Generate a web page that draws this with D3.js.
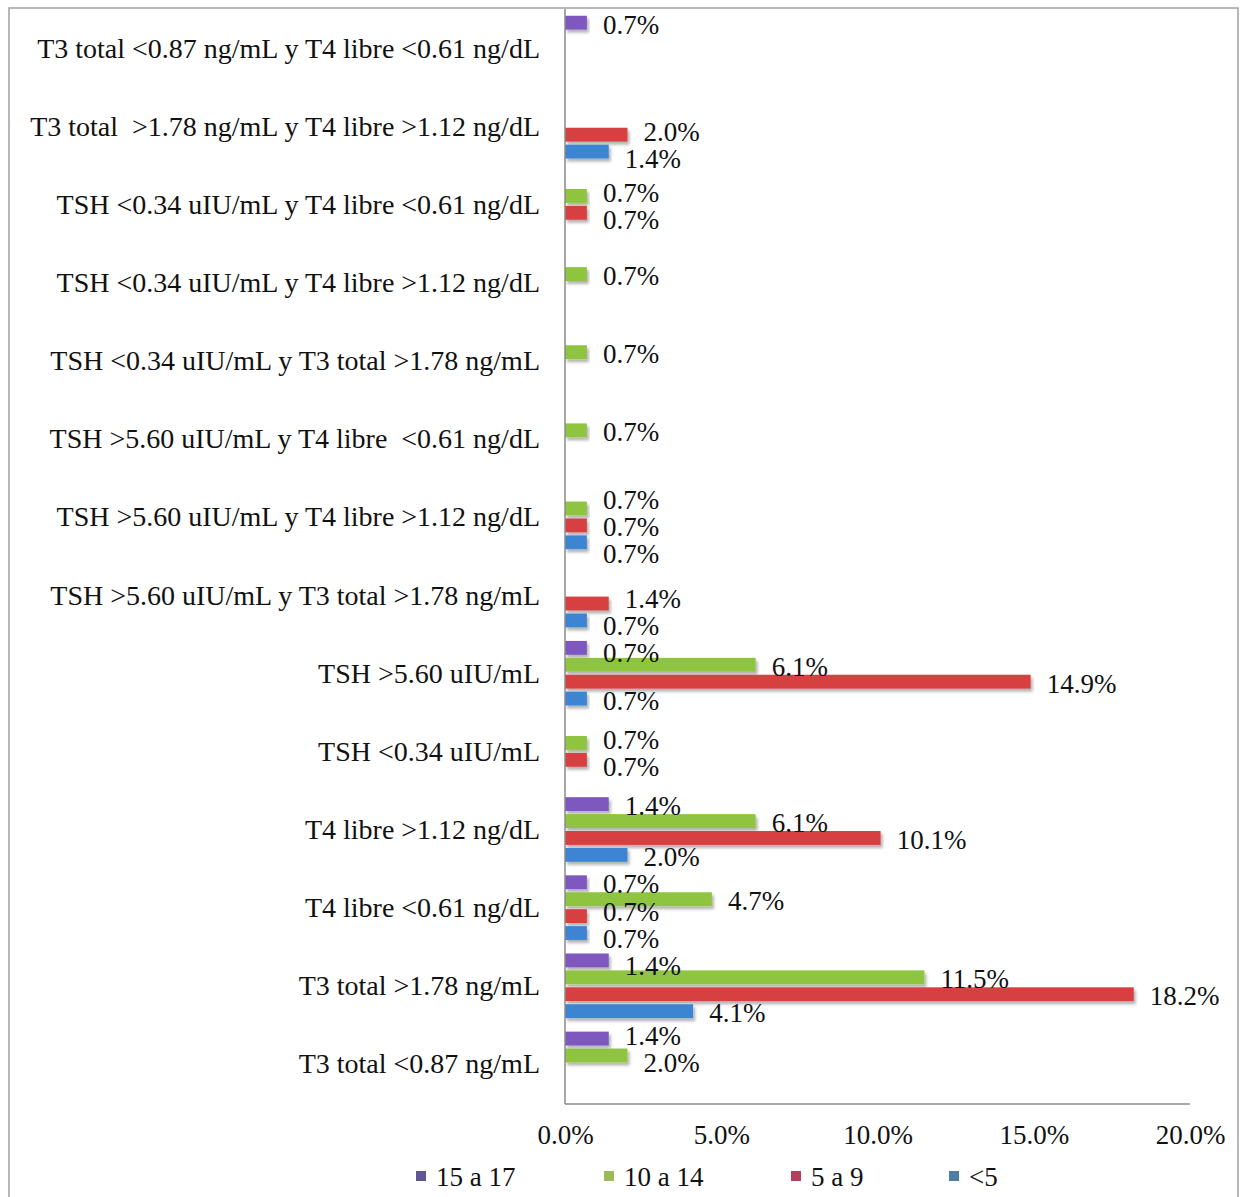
<!DOCTYPE html>
<html>
<head>
<meta charset="utf-8">
<script src="https://cdn.jsdelivr.net/npm/d3@7"></script>
<style>
  html, body { margin: 0; padding: 0; background: #fff; }
  svg text { font-family: "Liberation Serif", "DejaVu Serif", serif; white-space: pre; }
</style>
</head>
<body>
<svg id="chart" width="1241" height="1197"></svg>
<script>
const categories = [
  "T3 total <0.87 ng/mL y T4 libre <0.61 ng/dL",
  "T3 total  >1.78 ng/mL y T4 libre >1.12 ng/dL",
  "TSH <0.34 uIU/mL y T4 libre <0.61 ng/dL",
  "TSH <0.34 uIU/mL y T4 libre >1.12 ng/dL",
  "TSH <0.34 uIU/mL y T3 total >1.78 ng/mL",
  "TSH >5.60 uIU/mL y T4 libre  <0.61 ng/dL",
  "TSH >5.60 uIU/mL y T4 libre >1.12 ng/dL",
  "TSH >5.60 uIU/mL y T3 total >1.78 ng/mL",
  "TSH >5.60 uIU/mL",
  "TSH <0.34 uIU/mL",
  "T4 libre >1.12 ng/dL",
  "T4 libre <0.61 ng/dL",
  "T3 total >1.78 ng/mL",
  "T3 total <0.87 ng/mL"
];
const seriesNames = ["15 a 17", "10 a 14", "5 a 9", "<5"];
const s15a17 = [0.7, null, null, null, null, null, null, null, 0.7, null, 1.4, 0.7, 1.4, 1.4];
const s10a14 = [null, null, 0.7, 0.7, 0.7, 0.7, 0.7, null, 6.1, 0.7, 6.1, 4.7, 11.5, 2.0];
const s5a9   = [null, 2.0, 0.7, null, null, null, 0.7, 1.4, 14.9, 0.7, 10.1, 0.7, 18.2, null];
const sLt5   = [null, 1.4, null, null, null, null, 0.7, 0.7, 0.7, null, 2.0, 0.7, 4.1, null];
const xTicks = [0, 5, 10, 15, 20];

const barColors = ["#7E58BF", "#8FC43F", "#D6403F", "#3D85D3"];
const legendColors = ["#5F5791", "#9BBB59", "#B3405B", "#4C7EA6"];
const seriesValues = [s15a17, s10a14, s5a9, sLt5];

const svg = d3.select("#chart");

// defs: shadow
const defs = svg.append("defs");
const f = defs.append("filter").attr("id", "shadow").attr("x", "-5%").attr("y", "-30%").attr("width", "115%").attr("height", "180%");
f.append("feDropShadow").attr("dx", 2).attr("dy", 3).attr("stdDeviation", 1.5)
  .attr("flood-color", "#000").attr("flood-opacity", 0.3);

// outer frame
svg.append("rect").attr("x", 9).attr("y", 8).attr("width", 1229).attr("height", 1210)
  .attr("fill", "none").attr("stroke", "#a0a0a0").attr("stroke-width", 1.5);

const x = d3.scaleLinear().domain([0, 20]).range([565, 1190]);
const y = d3.scaleBand().domain(categories).range([9, 1103]).padding(0);
const y1 = d3.scaleBand().domain(seriesNames).range([0, y.bandwidth()])
  .paddingInner(0.18).paddingOuter(0.4);

// bars
const data = [];
categories.forEach((c, i) => {
  seriesNames.forEach((s, j) => {
    const v = seriesValues[j][i];
    if (v !== null) data.push({ c, s, j, v });
  });
});

const g = svg.append("g");
g.selectAll("rect.bar").data(data).enter().append("rect")
  .attr("class", "bar")
  .attr("x", x(0))
  .attr("y", d => y(d.c) + y1(d.s))
  .attr("width", d => x(d.v) - x(0))
  .attr("height", y1.bandwidth())
  .attr("fill", d => barColors[d.j])
  .attr("filter", "url(#shadow)");

// axis lines
svg.append("line").attr("x1", x(0)).attr("x2", x(0)).attr("y1", 9).attr("y2", 1104)
  .attr("stroke", "#8a8a8a").attr("stroke-width", 1.5);
svg.append("line").attr("x1", x(0)).attr("x2", x(20)).attr("y1", 1104).attr("y2", 1104)
  .attr("stroke", "#8a8a8a").attr("stroke-width", 1.5);

// data label positions, with spreading of horizontally overlapping labels
const labelW = 60, gap = 27;
data.forEach(d => {
  d.lx = x(d.v) + 16;
  d.ly = y(d.c) + y1(d.s) + y1.bandwidth() / 2 + 2;
});
for (let iter = 0; iter < 40; iter++) {
  for (let a = 0; a < data.length; a++) {
    for (let b = a + 1; b < data.length; b++) {
      const A = data[a], B = data[b];
      if (Math.abs(A.lx - B.lx) >= labelW) continue;
      const top = A.ly <= B.ly ? A : B, bot = top === A ? B : A;
      const dy = bot.ly - top.ly;
      if (dy < gap) {
        const push = (gap - dy) / 2;
        top.ly -= push; bot.ly += push;
      }
    }
  }
}

g.selectAll("text.val").data(data).enter().append("text")
  .attr("class", "val")
  .attr("x", d => d.lx)
  .attr("y", d => d.ly)
  .attr("dominant-baseline", "central")
  .attr("font-size", 27)
  .attr("fill", "#111")
  .text(d => d.v.toFixed(1) + "%");

// category labels
svg.selectAll("text.cat").data(categories).enter().append("text")
  .attr("class", "cat")
  .attr("x", 540)
  .attr("y", d => y(d) + y.bandwidth() / 2)
  .attr("text-anchor", "end")
  .attr("dominant-baseline", "central")
  .attr("font-size", 28)
  .attr("fill", "#111")
  .text(d => d);

// x tick labels via axis
const xAxis = d3.axisBottom(x).tickValues(xTicks).tickSize(0).tickPadding(0)
  .tickFormat(d => d.toFixed(1) + "%");
const ax = svg.append("g").attr("transform", "translate(0,1125)").call(xAxis);
ax.select(".domain").remove();
ax.selectAll("text").attr("font-size", 27).attr("fill", "#111")
  .attr("font-family", "Liberation Serif, serif");

// legend
const legendX = [416, 604, 791, 949];
const lg = svg.append("g");
seriesNames.forEach((s, j) => {
  lg.append("rect").attr("x", legendX[j]).attr("y", 1171).attr("width", 10).attr("height", 10)
    .attr("fill", legendColors[j]);
  lg.append("text").attr("x", legendX[j] + 20).attr("y", 1177)
    .attr("dominant-baseline", "central").attr("font-size", 27).attr("fill", "#111").text(s);
});
</script>
</body>
</html>
